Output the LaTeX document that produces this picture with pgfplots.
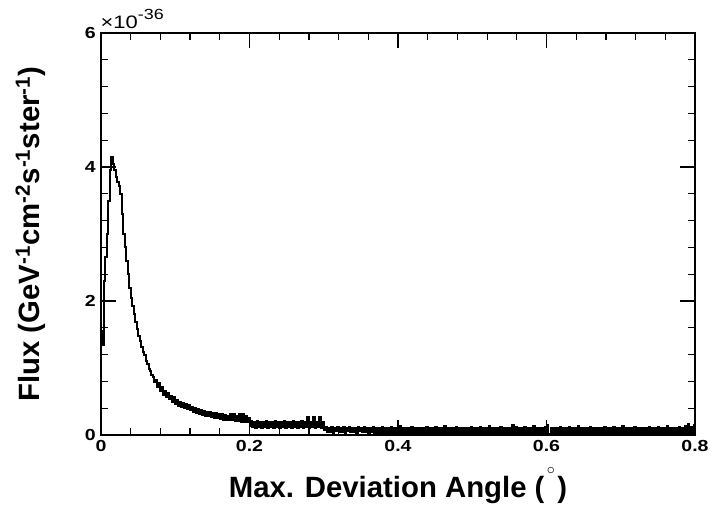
\documentclass[border=0pt]{standalone}
\usepackage{pgfplots}
\pgfplotsset{compat=1.18}
\usepackage{fontspec}
\setmainfont{Liberation Sans}
\newfontfamily\stretchfont{Liberation Sans}[FakeStretch=1.22]
\begin{document}
\begin{tikzpicture}
\path[use as bounding box] (-75.75pt,-57.75pt) rectangle (459pt,326.25pt);
\begin{axis}[
  at={(0,0)}, anchor=south west,
  scale only axis, width=445.5pt, height=301.5pt,
  xmin=0, xmax=0.8, ymin=0, ymax=6,
  xtick={0,0.2,0.4,0.6,0.8}, xticklabels={0,0.2,0.4,0.6,0.8},
  ytick={0,2,4,6}, yticklabels={0,2,4,6},
  minor x tick num=4, minor y tick num=4,
  major tick length=11pt, minor tick length=5.5pt,
  tick style={black, line width=0.9pt},
  axis line style={line width=2pt},
  /pgf/number format/assume math mode=true,
  tick label style={font=\stretchfont\fontsize{12}{12}\selectfont\bfseries},
  xticklabel style={yshift=-0.5pt},
  yticklabel style={xshift=-0.5pt},
  xlabel={Max. Deviation Angle (\hspace{0.12em}\raisebox{0.8em}[0pt][0pt]{\makebox[0.2em]{\fontsize{13}{13}\selectfont$\circ$}}\hspace{0.12em})},
  ylabel={Flux (GeV\textsuperscript{-1}cm\textsuperscript{-2}s\textsuperscript{-1}ster\textsuperscript{-1})},
  label style={font=\fontsize{22}{22}\selectfont\bfseries},
  xlabel style={at={(axis description cs:0.5,-0.1567)}, anchor=base},
  ylabel style={at={(axis description cs:-0.1027,0.5)}, anchor=base, rotate=0},
]
\addplot[const plot, black, line width=1.5pt] coordinates {
(0.000,1.55) (0.002,1.35) (0.004,2.3) (0.006,2.65) (0.008,3.0) (0.010,3.5)
(0.012,3.95) (0.014,4.15) (0.016,4.05) (0.018,3.95) (0.020,3.85) (0.022,3.78)
(0.024,3.72) (0.026,3.6) (0.028,3.3) (0.030,3.0) (0.032,2.8) (0.034,2.6)
(0.036,2.4) (0.038,2.2) (0.040,2.05) (0.042,1.92) (0.044,1.8) (0.046,1.68)
(0.048,1.58) (0.050,1.48) (0.052,1.40) (0.054,1.32) (0.056,1.24) (0.058,1.19)
(0.060,1.10) (0.062,1.06) (0.064,0.98) (0.066,0.96) (0.068,0.89) (0.070,0.87)
(0.072,0.79) (0.074,0.82) (0.076,0.72) (0.078,0.77) (0.080,0.66) (0.082,0.71)
(0.084,0.60) (0.086,0.66) (0.088,0.56) (0.090,0.62) (0.092,0.53) (0.094,0.58)
(0.096,0.49) (0.098,0.56) (0.100,0.47) (0.102,0.52) (0.104,0.44) (0.106,0.50)
(0.108,0.42) (0.110,0.48) (0.112,0.40) (0.114,0.47) (0.116,0.39) (0.118,0.45)
(0.120,0.37) (0.122,0.42) (0.124,0.34) (0.126,0.41) (0.128,0.33) (0.130,0.39)
(0.132,0.32) (0.134,0.38) (0.136,0.30) (0.138,0.36) (0.140,0.29) (0.142,0.35)
(0.144,0.28) (0.146,0.34) (0.148,0.27) (0.150,0.33) (0.152,0.26) (0.154,0.33)
(0.156,0.25) (0.158,0.32) (0.160,0.24) (0.162,0.31) (0.164,0.23) (0.166,0.30)
(0.168,0.23) (0.170,0.29) (0.172,0.22) (0.174,0.31) (0.176,0.22) (0.178,0.32)
(0.180,0.21) (0.182,0.29) (0.184,0.21) (0.186,0.31) (0.188,0.20) (0.190,0.32)
(0.192,0.20) (0.194,0.28) (0.196,0.20) (0.198,0.26)
(0.200,0.13) (0.202,0.21) (0.204,0.12) (0.206,0.20) (0.208,0.11) (0.210,0.21)
(0.212,0.12) (0.214,0.19) (0.216,0.11) (0.218,0.20) (0.220,0.12) (0.222,0.21)
(0.224,0.11) (0.226,0.19) (0.228,0.12) (0.230,0.20) (0.232,0.11) (0.234,0.21)
(0.236,0.12) (0.238,0.20) (0.240,0.11) (0.242,0.19) (0.244,0.12) (0.246,0.21)
(0.248,0.11) (0.250,0.20) (0.252,0.12) (0.254,0.19) (0.256,0.11) (0.258,0.21)
(0.260,0.12) (0.262,0.20) (0.264,0.11) (0.266,0.19) (0.268,0.12) (0.270,0.21)
(0.272,0.11) (0.274,0.20) (0.276,0.12) (0.278,0.27) (0.280,0.11) (0.282,0.20)
(0.284,0.12) (0.286,0.27) (0.288,0.11) (0.290,0.20) (0.292,0.12) (0.294,0.27)
(0.296,0.11) (0.298,0.19)
(0.300,0.08) (0.302,0.12) (0.304,0.04) (0.306,0.11) (0.308,0.05) (0.310,0.12)
(0.312,0.03) (0.314,0.10) (0.316,0.06) (0.318,0.12) (0.320,0.04) (0.322,0.11)
(0.324,0.05) (0.326,0.12) (0.328,0.03) (0.330,0.11) (0.332,0.06) (0.334,0.12)
(0.336,0.04) (0.338,0.11) (0.340,0.05) (0.342,0.10) (0.344,0.03) (0.346,0.12)
(0.348,0.06) (0.350,0.11) (0.352,0.04) (0.354,0.12) (0.356,0.05) (0.358,0.10)
(0.360,0.03) (0.362,0.11) (0.364,0.04) (0.366,0.12) (0.368,0.02)
(0.370,0.11) (0.372,0.01) (0.374,0.10) (0.376,0.00) (0.378,0.12) (0.380,0.02) (0.382,0.10) (0.384,0.00) (0.386,0.11) (0.388,0.01)
(0.390,0.12) (0.392,0.00) (0.394,0.10) (0.396,0.02) (0.398,0.11) (0.400,0.00) (0.402,0.13) (0.404,0.01) (0.406,0.10) (0.408,0.00)
(0.410,0.10) (0.412,0.02) (0.414,0.11) (0.416,0.00) (0.418,0.12) (0.420,0.01) (0.422,0.10) (0.424,0.00) (0.426,0.11) (0.428,0.02)
(0.430,0.11) (0.432,0.01) (0.434,0.10) (0.436,0.00) (0.438,0.12) (0.440,0.02) (0.442,0.10) (0.444,0.00) (0.446,0.11) (0.448,0.01)
(0.450,0.12) (0.452,0.00) (0.454,0.10) (0.456,0.02) (0.458,0.11) (0.460,0.00) (0.462,0.13) (0.464,0.01) (0.466,0.10) (0.468,0.00)
(0.470,0.10) (0.472,0.02) (0.474,0.11) (0.476,0.00) (0.478,0.12) (0.480,0.01) (0.482,0.10) (0.484,0.00) (0.486,0.11) (0.488,0.02)
(0.490,0.11) (0.492,0.01) (0.494,0.10) (0.496,0.00) (0.498,0.12) (0.500,0.02) (0.502,0.10) (0.504,0.00) (0.506,0.11) (0.508,0.01)
(0.510,0.12) (0.512,0.00) (0.514,0.10) (0.516,0.02) (0.518,0.11) (0.520,0.00) (0.522,0.13) (0.524,0.01) (0.526,0.10) (0.528,0.00)
(0.530,0.10) (0.532,0.02) (0.534,0.11) (0.536,0.00) (0.538,0.12) (0.540,0.01) (0.542,0.10) (0.544,0.00) (0.546,0.11) (0.548,0.02)
(0.550,0.11) (0.552,0.01) (0.554,0.15) (0.556,0.00) (0.558,0.12) (0.560,0.02) (0.562,0.10) (0.564,0.00) (0.566,0.11) (0.568,0.01)
(0.570,0.12) (0.572,0.00) (0.574,0.10) (0.576,0.02) (0.578,0.11) (0.580,0.00) (0.582,0.13) (0.584,0.01) (0.586,0.10) (0.588,0.00)
(0.590,0.10) (0.592,0.02) (0.594,0.11) (0.596,0.00) (0.598,0.12) (0.600,0.15) (0.602,0.01) (0.604,0.00) (0.606,0.11) (0.608,0.02)
(0.610,0.11) (0.612,0.01) (0.614,0.10) (0.616,0.00) (0.618,0.12) (0.620,0.02) (0.622,0.10) (0.624,0.00) (0.626,0.11) (0.628,0.01)
(0.630,0.12) (0.632,0.00) (0.634,0.10) (0.636,0.02) (0.638,0.11) (0.640,0.00) (0.642,0.13) (0.644,0.01) (0.646,0.10) (0.648,0.00)
(0.650,0.10) (0.652,0.02) (0.654,0.11) (0.656,0.00) (0.658,0.12) (0.660,0.01) (0.662,0.10) (0.664,0.00) (0.666,0.11) (0.668,0.02)
(0.670,0.11) (0.672,0.01) (0.674,0.10) (0.676,0.00) (0.678,0.12) (0.680,0.02) (0.682,0.10) (0.684,0.00) (0.686,0.11) (0.688,0.01)
(0.690,0.12) (0.692,0.00) (0.694,0.10) (0.696,0.02) (0.698,0.11) (0.700,0.00) (0.702,0.13) (0.704,0.01) (0.706,0.10) (0.708,0.00)
(0.710,0.10) (0.712,0.02) (0.714,0.11) (0.716,0.00) (0.718,0.12) (0.720,0.01) (0.722,0.10) (0.724,0.00) (0.726,0.11) (0.728,0.02)
(0.730,0.11) (0.732,0.01) (0.734,0.10) (0.736,0.00) (0.738,0.12) (0.740,0.02) (0.742,0.10) (0.744,0.00) (0.746,0.11) (0.748,0.01)
(0.750,0.12) (0.752,0.00) (0.754,0.10) (0.756,0.02) (0.758,0.11) (0.760,0.00) (0.762,0.13) (0.764,0.01) (0.766,0.10) (0.768,0.00)
(0.770,0.10) (0.772,0.02) (0.774,0.11) (0.776,0.00) (0.778,0.12) (0.780,0.01) (0.782,0.10) (0.784,0.00) (0.786,0.14) (0.788,0.02)
(0.790,0.16) (0.792,0.01) (0.794,0.12) (0.796,0.02) (0.798,0.15) (0.800,0.15)
};
\end{axis}
\node[anchor=base west, inner sep=0pt] at (-0.5pt,305pt) {\stretchfont\fontsize{13.5}{13.5}\selectfont ×10\raisebox{0.5em}{\fontsize{11}{11}\selectfont -36}};
\end{tikzpicture}
\end{document}
